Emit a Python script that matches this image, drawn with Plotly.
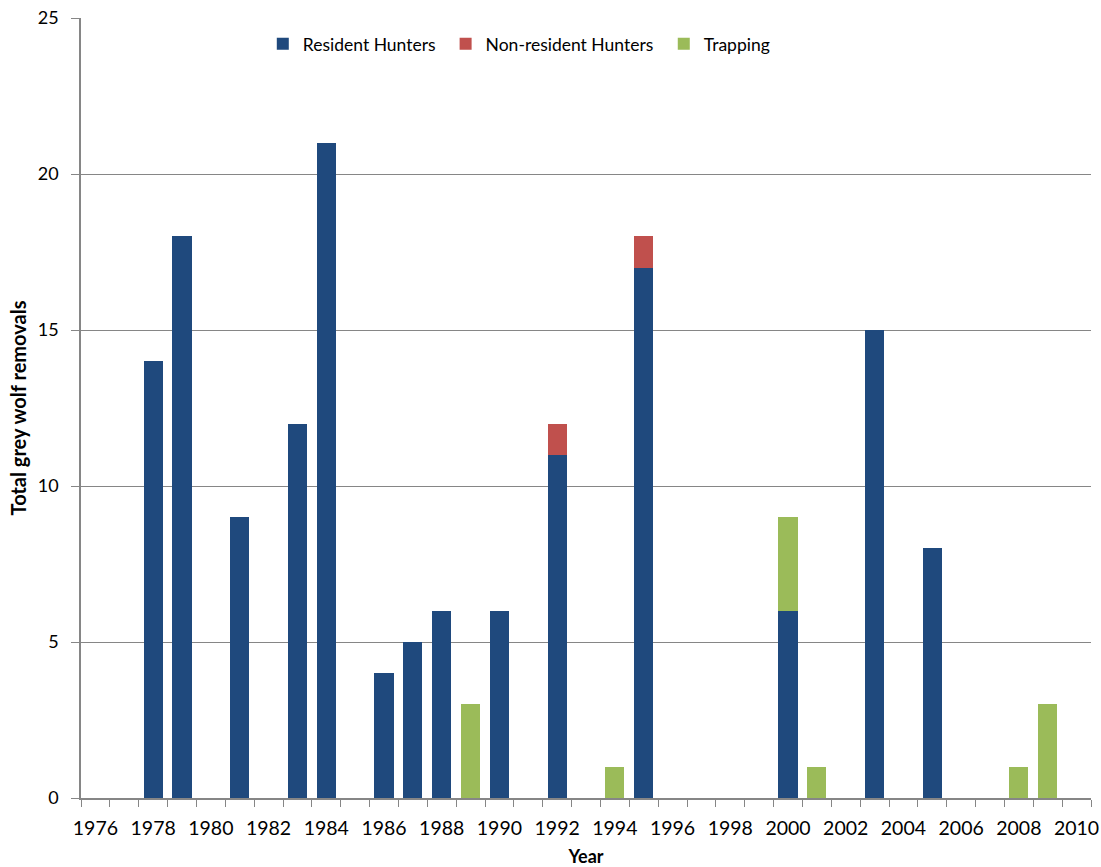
import plotly.graph_objects as go

years = list(range(1976, 2011))
resident_data = {1978: 14, 1979: 18, 1981: 9, 1983: 12, 1984: 21, 1986: 4, 1987: 5,
                 1988: 6, 1990: 6, 1992: 11, 1995: 17, 2000: 6, 2003: 15, 2005: 8}
nonresident_data = {1992: 1, 1995: 1}
trapping_data = {1989: 3, 1994: 1, 2000: 3, 2001: 1, 2008: 1, 2009: 3}

resident = [resident_data.get(y, 0) for y in years]
nonresident = [nonresident_data.get(y, 0) for y in years]
trapping = [trapping_data.get(y, 0) for y in years]
tick_labels = [str(y) for y in range(1976, 2011, 2)]

font_family = "Lato, 'Open Sans', sans-serif"

series = [("Resident Hunters", resident, "#1F497D", "legend", 0.180),
          ("Non-resident Hunters", nonresident, "#C0504D", "legend2", 0.361),
          ("Trapping", trapping, "#9BBB59", "legend3", 0.577)]

fig = go.Figure()
legends = {}
for name, vals, color, lg, lx in series:
    fig.add_trace(go.Bar(x=years, y=vals, name=name, marker_color=color,
                         marker_line_width=0, width=0.66, legend=lg, showlegend=True))
    legends[lg] = dict(orientation="h", x=lx, xanchor="left", y=0.9667, yanchor="middle",
                       font=dict(size=17.5), itemwidth=30, bgcolor="rgba(0,0,0,0)",
                       visible=True)

gray = "#868686"
fig.update_layout(
    barmode="stack",
    showlegend=True,
    width=1101, height=867,
    margin=dict(l=81, r=10, t=18, b=69, autoexpand=False),
    paper_bgcolor="white", plot_bgcolor="white",
    font=dict(family=font_family, size=16, color="black"),
    xaxis=dict(range=[1975.5, 2010.5], tickvals=list(range(1976, 2011, 2)),
               ticktext=tick_labels, ticks="", showgrid=False, automargin=False,
               showline=True, linecolor=gray, linewidth=1.5,
               tickfont=dict(size=19.5), ticklabelstandoff=12,
               minor=dict(tick0=1975.5, dtick=1, ticks="outside", ticklen=7,
                          tickcolor=gray, showgrid=False),
               title=dict(text="<b>Year</b>", font=dict(size=18), standoff=14)),
    yaxis=dict(range=[0, 25], tickvals=[0, 5, 10, 15, 20, 25], automargin=False,
               showgrid=True, gridcolor=gray, gridwidth=1,
               showline=True, linecolor=gray, linewidth=1.5,
               ticks="outside", ticklen=8, tickcolor=gray, ticklabelstandoff=9,
               tickfont=dict(size=18), zeroline=False,
               title=dict(text="<b>Total grey wolf removals</b>", font=dict(size=20), standoff=6)),
    **legends,
)

fig.write_html("out.html", config={"displayModeBar": False},
               post_script="document.body.style.margin='0';")
